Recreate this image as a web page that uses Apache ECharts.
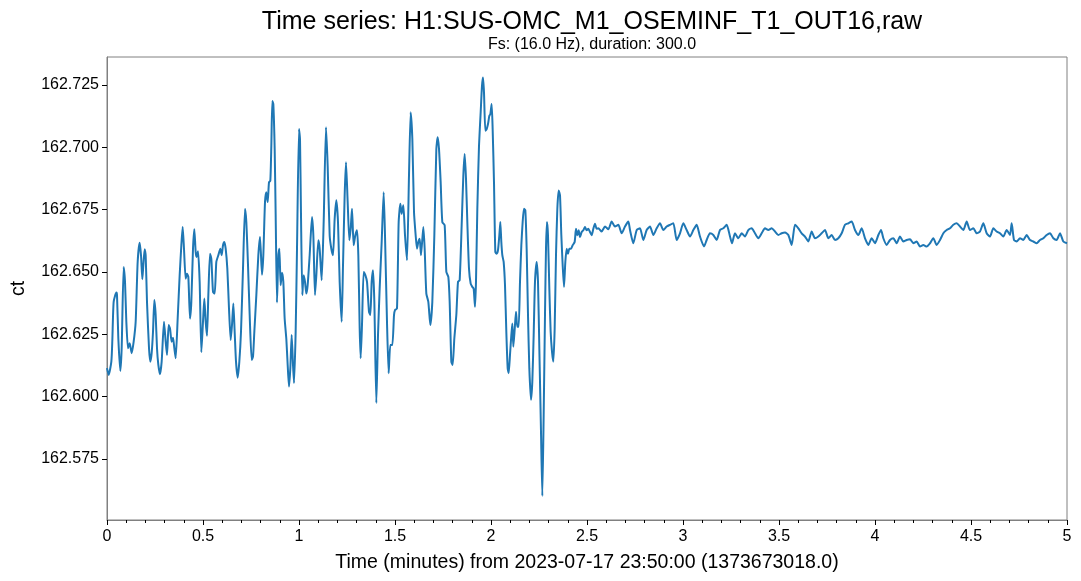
<!DOCTYPE html>
<html>
<head>
<meta charset="utf-8">
<script src="https://cdn.jsdelivr.net/npm/echarts@6/dist/echarts.min.js"></script>
<style>
    html, body { margin: 0; padding: 0; background: #fff; }
    #chart { width: 1081px; height: 581px; }
</style>
</head>
<body>
<div id="chart"></div>
<script>
    // time axis, minutes from GPS 1373673018
    var minutes = [
        0, 0.0087, 0.0226, 0.0278, 0.0347, 0.0486, 0.0521, 0.0590, 0.0694, 0.0764,
        0.0868, 0.0938, 0.1007, 0.1094, 0.1181, 0.1285, 0.1389, 0.1493, 0.1597, 0.1701,
        0.1771, 0.1840, 0.1892, 0.1962, 0.2014, 0.2083, 0.2188, 0.2257, 0.2326, 0.2396,
        0.2465, 0.2535, 0.2604, 0.2674, 0.2760, 0.2847, 0.2969, 0.3056, 0.3125, 0.3212,
        0.3281, 0.3368, 0.3438, 0.3507, 0.3576, 0.3681, 0.3785, 0.3872, 0.3941, 0.4010,
        0.4097, 0.4167, 0.4236, 0.4323, 0.4392, 0.4479, 0.4549, 0.4618, 0.4670, 0.4740,
        0.4826, 0.4913, 0.5000, 0.5069, 0.5139, 0.5208, 0.5278, 0.5365, 0.5434, 0.5521,
        0.5608, 0.5694, 0.5799, 0.5903, 0.5972, 0.6042, 0.6111, 0.6181, 0.6267, 0.6354,
        0.6441, 0.6510, 0.6580, 0.6649, 0.6719, 0.6806, 0.6892, 0.6979, 0.7083, 0.7188,
        0.7257, 0.7344, 0.7431, 0.7535, 0.7604, 0.7674, 0.7778, 0.7882, 0.7969, 0.8073,
        0.8142, 0.8229, 0.8299, 0.8368, 0.8438, 0.8507, 0.8559, 0.8611, 0.8663, 0.8733,
        0.8785, 0.8854, 0.8924, 0.8976, 0.9045, 0.9115, 0.9184, 0.9253, 0.9340, 0.9410,
        0.9479, 0.9549, 0.9618, 0.9688, 0.9740, 0.9826, 0.9896, 1.0000,
        1.0052, 1.0104, 1.0174, 1.0243, 1.0313, 1.0382, 1.0451, 1.0556, 1.0677, 1.0747,
        1.0833, 1.0903, 1.1007, 1.1076, 1.1181, 1.1285, 1.1406, 1.1493, 1.1597, 1.1684,
        1.1771, 1.1858, 1.1944, 1.2031, 1.2118, 1.2222, 1.2292, 1.2378, 1.2448, 1.2535,
        1.2622, 1.2691, 1.2760, 1.2847, 1.2934, 1.3021, 1.3090, 1.3160, 1.3212, 1.3281,
        1.3368, 1.3455, 1.3542, 1.3646, 1.3715, 1.3785, 1.3854, 1.3924, 1.4028, 1.4115,
        1.4201, 1.4306, 1.4410, 1.4479, 1.4583, 1.4670, 1.4757, 1.4861, 1.4948, 1.5000,
        1.5104, 1.5191, 1.5278, 1.5347, 1.5434, 1.5521, 1.5625, 1.5729, 1.5816, 1.5903,
        1.5990, 1.6076, 1.6146, 1.6215, 1.6285, 1.6354, 1.6476, 1.6545, 1.6632, 1.6736,
        1.6840, 1.6944, 1.7049, 1.7153, 1.7222, 1.7292, 1.7378, 1.7465, 1.7587, 1.7674,
        1.7778, 1.7847, 1.7934, 1.8003, 1.8090, 1.8194, 1.8281, 1.8368,
        1.8472, 1.8559, 1.8628, 1.8698, 1.8767, 1.8854, 1.8941, 1.9027, 1.9097, 1.9166,
        1.9218, 1.9288, 1.9375, 1.9462, 1.9531, 1.9583, 1.9635, 1.9705, 1.9774, 1.9843,
        1.9913, 1.9965, 2.0034, 2.0086, 2.0156, 2.0225, 2.0295, 2.0364, 2.0434, 2.0486,
        2.0538, 2.0590, 2.0659, 2.0729, 2.0798, 2.0868, 2.0920, 2.0989, 2.1059, 2.1111,
        2.1163, 2.1232, 2.1302, 2.1371, 2.1441, 2.1510, 2.1580, 2.1649, 2.1718, 2.1788,
        2.1857, 2.1927, 2.1996, 2.2083, 2.2152, 2.2222, 2.2291, 2.2378, 2.2448, 2.2517,
        2.2604, 2.2673, 2.2743, 2.2812, 2.2864, 2.2916, 2.2968, 2.3038, 2.3107, 2.3177,
        2.3246, 2.3316, 2.3385, 2.3455, 2.3524, 2.3594, 2.3663, 2.3733, 2.3802, 2.3871,
        2.3941, 2.4010, 2.4080, 2.4167, 2.4253, 2.4357, 2.4427, 2.4496, 2.4566, 2.4635,
        2.4722, 2.4809, 2.4896, 2.4983, 2.5069, 2.5156, 2.5243, 2.5330, 2.5417, 2.5503,
        2.5590, 2.5764, 2.5938, 2.6111, 2.6285, 2.6458, 2.6632, 2.6806, 2.6979, 2.7153,
        2.7240, 2.7413, 2.7587, 2.7760, 2.7934, 2.8108, 2.8281, 2.8455, 2.8628, 2.8802,
        2.8976, 2.9149, 2.9323, 2.9496, 2.9670, 2.9844, 3.0017, 3.0191, 3.0365, 3.0538,
        3.0712, 3.0885, 3.1094, 3.1233, 3.1406, 3.1580, 3.1753, 3.1927, 3.2101, 3.2274,
        3.2448, 3.2552, 3.2708, 3.2882, 3.3056, 3.3229, 3.3403, 3.3576, 3.3750, 3.3924,
        3.4097, 3.4271, 3.4444, 3.4618, 3.4792, 3.4965, 3.5139, 3.5313, 3.5486, 3.5660,
        3.5833, 3.6007, 3.6181, 3.6354, 3.6528, 3.6701, 3.6875, 3.7049, 3.7222, 3.7396,
        3.7569, 3.7743, 3.7917, 3.8090, 3.8264, 3.8438, 3.8611, 3.8785, 3.8958, 3.9132,
        3.9306, 3.9479, 3.9653, 3.9826, 4.0000, 4.0174, 4.0313, 4.0434, 4.0608, 4.0781,
        4.0955, 4.1128, 4.1302, 4.1476, 4.1649, 4.1823, 4.1997, 4.2170, 4.2344, 4.2517,
        4.2691, 4.2865, 4.3038, 4.3212, 4.3386, 4.3559, 4.3733, 4.3906, 4.4080, 4.4254,
        4.4427, 4.4601, 4.4774, 4.4948, 4.5122, 4.5295, 4.5469, 4.5642, 4.5816, 4.5990,
        4.6163, 4.6337, 4.6510, 4.6684, 4.6858, 4.7031, 4.7118, 4.7240, 4.7379, 4.7552,
        4.7726, 4.7899, 4.8073, 4.8247, 4.8420, 4.8594, 4.8767, 4.8941, 4.9115, 4.9288,
        4.9462, 4.9635, 4.9809, 5.0000
    ];

    // raw counts
    var counts = [
        162.6114, 162.6087, 162.6140, 162.6227, 162.6380, 162.6417, 162.6407, 162.6233, 162.6103, 162.6194,
        162.6520, 162.6460, 162.6300, 162.6194, 162.6214, 162.6174, 162.6220, 162.6300, 162.6540, 162.6617,
        162.6567, 162.6471, 162.6527, 162.6591, 162.6567, 162.6380, 162.6194, 162.6140, 162.6174, 162.6260,
        162.6387, 162.6327, 162.6194, 162.6127, 162.6090, 162.6140, 162.6300, 162.6220, 162.6167, 162.6287,
        162.6273, 162.6220, 162.6236, 162.6194, 162.6154, 162.6313, 162.6487, 162.6607, 162.6680, 162.6593,
        162.6473, 162.6493, 162.6480, 162.6313, 162.6380, 162.6593, 162.6671, 162.6580, 162.6560, 162.6583,
        162.6460, 162.6178, 162.6300, 162.6393, 162.6300, 162.6244, 162.6407, 162.6573, 162.6553, 162.6420,
        162.6413, 162.6540, 162.6567, 162.6593, 162.6567, 162.6607, 162.6620, 162.6593, 162.6513, 162.6353,
        162.6227, 162.6287, 162.6373, 162.6260, 162.6140, 162.6076, 162.6140, 162.6260, 162.6513, 162.6753,
        162.6700, 162.6527, 162.6327, 162.6147, 162.6160, 162.6260, 162.6407, 162.6567, 162.6640, 162.6489,
        162.6567, 162.6780, 162.6820, 162.6780, 162.6860, 162.6866, 162.7006, 162.7186, 162.7173, 162.6993,
        162.6727, 162.6377, 162.6567, 162.6593, 162.6447, 162.6497, 162.6460, 162.6313, 162.6231, 162.6127,
        162.6040, 162.6114, 162.6247, 162.6127, 162.6054, 162.6260, 162.6593, 162.7073,
        162.7033, 162.6727, 162.6407, 162.6487, 162.6460, 162.6413, 162.6447, 162.6567, 162.6720, 162.6647,
        162.6407, 162.6487, 162.6627, 162.6593, 162.6467, 162.6700, 162.7080, 162.6926, 162.6647, 162.6593,
        162.6567, 162.6713, 162.6787, 162.6700, 162.6460, 162.6300, 162.6527, 162.6807, 162.6940, 162.6780,
        162.6627, 162.6673, 162.6753, 162.6607, 162.6647, 162.6667, 162.6567, 162.6273, 162.6154, 162.6287,
        162.6500, 162.6487, 162.6460, 162.6340, 162.6327, 162.6460, 162.6507, 162.6380, 162.5974, 162.6247,
        162.6433, 162.6620, 162.6820, 162.6647, 162.6300, 162.6094, 162.6207, 162.6207, 162.6327, 162.6347,
        162.6353, 162.6700, 162.6773, 162.6733, 162.6767, 162.6647, 162.6547, 162.6887, 162.7140, 162.7033,
        162.6740, 162.6647, 162.6593, 162.6620, 162.6633, 162.6567, 162.6680, 162.6593, 162.6413, 162.6380,
        162.6287, 162.6380, 162.6647, 162.6993, 162.7040, 162.6993, 162.6860, 162.6700, 162.6687, 162.6500,
        162.6480, 162.6380, 162.6140, 162.6127, 162.6233, 162.6327, 162.6460, 162.6467,
        162.6687, 162.6887, 162.6973, 162.6873, 162.6700, 162.6513, 162.6453, 162.6440, 162.6433, 162.6360,
        162.6460, 162.6753, 162.7006, 162.7140, 162.7246, 162.7280, 162.7220, 162.7066, 162.7073, 162.7093,
        162.7126, 162.7133, 162.7173, 162.7073, 162.6860, 162.6580, 162.6573, 162.6587, 162.6647, 162.6700,
        162.6620, 162.6567, 162.6540, 162.6447, 162.6260, 162.6114, 162.6094, 162.6167, 162.6247, 162.6293,
        162.6200, 162.6267, 162.6340, 162.6280, 162.6280, 162.6460, 162.6607, 162.6700, 162.6753, 162.6747,
        162.6593, 162.6327, 162.6114, 162.5987, 162.6060, 162.6247, 162.6460, 162.6540, 162.6460, 162.6194,
        162.5860, 162.5601, 162.5927, 162.6327, 162.6593, 162.6700, 162.6647, 162.6433, 162.6260, 162.6180,
        162.6140, 162.6273, 162.6567, 162.6753, 162.6827, 162.6807, 162.6647, 162.6527, 162.6440, 162.6540,
        162.6593, 162.6573, 162.6593, 162.6593, 162.6607, 162.6620, 162.6673, 162.6647, 162.6667, 162.6640,
        162.6660, 162.6667, 162.6680, 162.6667, 162.6673, 162.6660, 162.6647, 162.6673, 162.6693, 162.6673,
        162.6675, 162.6662, 162.6682, 162.6671, 162.6702, 162.6682, 162.6689, 162.6655, 162.6682, 162.6702,
        162.6668, 162.6615, 162.6668, 162.6675, 162.6628, 162.6668, 162.6682, 162.6648, 162.6675, 162.6695,
        162.6668, 162.6682, 162.6689, 162.6695, 162.6628, 162.6655, 162.6695, 162.6668, 162.6642, 162.6668,
        162.6689, 162.6642, 162.6602, 162.6628, 162.6655, 162.6648, 162.6628, 162.6668, 162.6675, 162.6689,
        162.6642, 162.6615, 162.6655, 162.6635, 162.6655, 162.6642, 162.6668, 162.6675, 162.6655, 162.6635,
        162.6655, 162.6675, 162.6668, 162.6675, 162.6662, 162.6648, 162.6655, 162.6658, 162.6648, 162.6608,
        162.6689, 162.6675, 162.6655, 162.6642, 162.6622, 162.6662, 162.6635, 162.6642, 162.6655, 162.6668,
        162.6635, 162.6648, 162.6628, 162.6635, 162.6655, 162.6689, 162.6695, 162.6702, 162.6668, 162.6648,
        162.6675, 162.6635, 162.6608, 162.6635, 162.6615, 162.6648, 162.6668, 162.6635, 162.6608, 162.6628,
        162.6635, 162.6615, 162.6642, 162.6622, 162.6628, 162.6631, 162.6615, 162.6622, 162.6602, 162.6608,
        162.6602, 162.6615, 162.6635, 162.6608, 162.6628, 162.6655, 162.6668, 162.6675, 162.6689, 162.6695,
        162.6682, 162.6668, 162.6702, 162.6668, 162.6675, 162.6655, 162.6662, 162.6695, 162.6655, 162.6642,
        162.6675, 162.6662, 162.6655, 162.6642, 162.6668, 162.6648, 162.6695, 162.6628, 162.6622, 162.6635,
        162.6628, 162.6648, 162.6628, 162.6622, 162.6615, 162.6628, 162.6635, 162.6648, 162.6655, 162.6635,
        162.6628, 162.6655, 162.6622, 162.6615
    ];

    var yTicks = [162.575, 162.6, 162.625, 162.65, 162.675, 162.7, 162.725];

    var series = [];
    for (var i = 0; i < minutes.length; ++i)
        series.push([minutes[i], counts[i]]);

    var font = '"Liberation Sans", Arial, sans-serif';
    var option = {
        animation: false,
        title: {
            text: 'Time series: H1:SUS-OMC_M1_OSEMINF_T1_OUT16,raw',
            subtext: 'Fs: (16.0 Hz), duration: 300.0',
            left: 587,
            top: 5,
            textAlign: 'center',
            itemGap: 2,
            textStyle: {fontFamily: font, fontSize: 25, fontWeight: 'normal', color: '#000'},
            subtextStyle: {fontFamily: font, fontSize: 16, color: '#000'}
        },
        grid: {
            left: 107,
            right: 14,
            top: 57,
            bottom: 61,
            outerBoundsMode: 'none',
            show: true,
            borderColor: '#808080',
            borderWidth: 1
        },
        xAxis: {
            type: 'value',
            min: 0,
            max: 5,
            interval: 0.5,
            name: 'Time (minutes) from 2023-07-17 23:50:00 (1373673018.0)',
            nameLocation: 'middle',
            nameGap: 33,
            nameTextStyle: {fontFamily: font, fontSize: 19.5, color: '#000'},
            axisLine: {show: true, lineStyle: {color: '#808080', width: 1}},
            axisTick: {show: true, length: 5, lineStyle: {color: '#000'}},
            minorTick: {show: true, splitNumber: 5, length: 3, lineStyle: {color: '#000'}},
            splitLine: {show: false},
            axisLabel: {fontFamily: font, fontSize: 16, color: '#000', margin: 9}
        },
        yAxis: {
            type: 'value',
            min: 162.5505,
            max: 162.7362,
            name: 'ct',
            nameLocation: 'middle',
            nameGap: 78,
            nameRotate: 90,
            nameTextStyle: {fontFamily: font, fontSize: 19.5, color: '#000'},
            axisLine: {show: true, lineStyle: {color: '#808080', width: 1}},
            axisTick: {show: true, length: 5, lineStyle: {color: '#000'}, customValues: yTicks},
            splitLine: {show: false},
            axisLabel: {
                fontFamily: font, fontSize: 16, color: '#000', margin: 8,
                customValues: yTicks,
                formatter: function (v) { return v.toFixed(3); }
            }
        },
        series: [{
            type: 'line',
            data: series,
            showSymbol: false,
            smooth: 0.2,
            lineStyle: {color: '#1f77b4', width: 2},
            itemStyle: {color: '#1f77b4'}
        }]
    };

    var chart = echarts.init(document.getElementById('chart'));
    chart.setOption(option);
</script>
</body>
</html>
